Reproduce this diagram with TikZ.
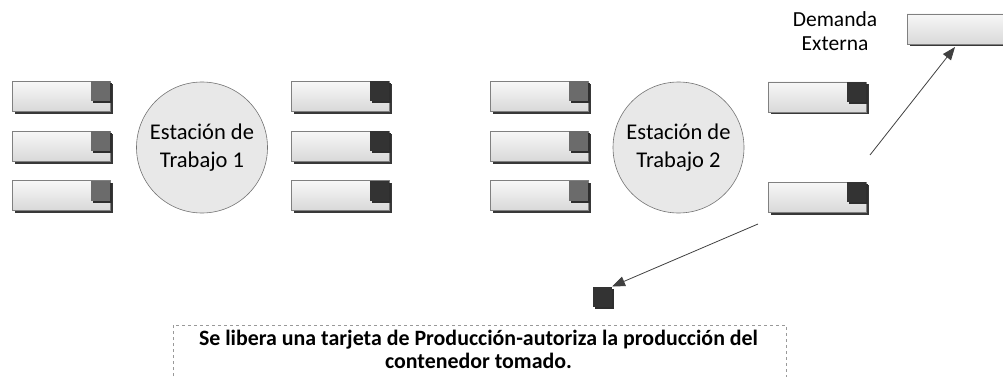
\documentclass[tikz,border=0pt]{standalone}
\usepackage{fontspec}
\setmainfont{Carlito}
\usetikzlibrary{arrows.meta,shadows}
\begin{document}
\begin{tikzpicture}[x=1pt,y=-1pt,
  box/.style={draw=black!50, line width=0.8pt, top color=black!3, bottom color=black!15,
    minimum width=98pt, minimum height=30pt, inner sep=0pt, outer sep=0pt,
    drop shadow={shadow xshift=2.5pt, shadow yshift=-2.5pt, fill=black!78, opacity=1}},
  tag/.style={minimum width=19pt, minimum height=20pt, inner sep=0pt, outer sep=0pt,
    anchor=north east, drop shadow={shadow xshift=2pt, shadow yshift=-2pt, fill=black!82, opacity=1}},
  tagA/.style={tag, fill=black!58},
  tagB/.style={tag, fill=black!80},
  station/.style={circle, draw=black!55, line width=0.6pt, fill=black!9, minimum size=131pt,
    inner sep=0pt, align=center, font=\fontsize{22.5}{28}\selectfont},
  arr/.style={draw=black!75, line width=0.8pt, -{Triangle[length=13pt,width=10pt]}},
]
\useasboundingbox (0,0) rectangle (1003,377);

% column 1
\node[box] (c11) at (61,96.5) {};
\node[tagA] (t11) at (c11.north east) {};
\node[box] (c12) at (61,146) {};
\node[tagA] (t12) at (c12.north east) {};
\node[box] (c13) at (61,195.5) {};
\node[tagA] (t13) at (c13.north east) {};

\node[station] (s1) at (202,147.5) {Estación de\\Trabajo 1};

% column 2
\node[box] (c21) at (340,96.5) {};
\node[tagB] (t21) at (c21.north east) {};
\node[box] (c22) at (340,146) {};
\node[tagB] (t22) at (c22.north east) {};
\node[box] (c23) at (340,195.5) {};
\node[tagB] (t23) at (c23.north east) {};

% column 3
\node[box] (c31) at (539,96.5) {};
\node[tagA] (t31) at (c31.north east) {};
\node[box] (c32) at (539,146) {};
\node[tagA] (t32) at (c32.north east) {};
\node[box] (c33) at (539,195.5) {};
\node[tagA] (t33) at (c33.north east) {};

\node[station] (s2) at (678.5,147.5) {Estación de\\Trabajo 2};

% column 4
\node[box] (c41) at (817,97) {};
\node[tagB] (t41) at (c41.north east) {};
\node[box] (c42) at (817,197) {};
\node[tagB] (t42) at (c42.north east) {};

% external demand
\node[font=\fontsize{21.5}{24}\selectfont, align=center] (dlbl) at (835,31.5) {Demanda\\Externa};
\node[box, minimum width=100pt] (dem) at (957,29) {};

% released card
\node[tagB, anchor=center] (sq) at (602.5,296.5) {};

\coordinate (a1s) at (870,155);
\coordinate (a2s) at (758,224);
\draw[arr] (a1s) -- ([xshift=-2pt,yshift=-3pt]dem.south);
\draw[arr] (a2s) -- (sq.north east);

% note
\draw[dashed, black!40, line width=0.7pt] (173,400) -- (173,325) -- (786,325) -- (786,400);
\node[font=\bfseries\fontsize{21.9}{23}\selectfont, align=center] (note) at (478.5,349.5)
  {Se libera una tarjeta de Producción-autoriza la producción del\\contenedor tomado.};
\end{tikzpicture}
\end{document}
